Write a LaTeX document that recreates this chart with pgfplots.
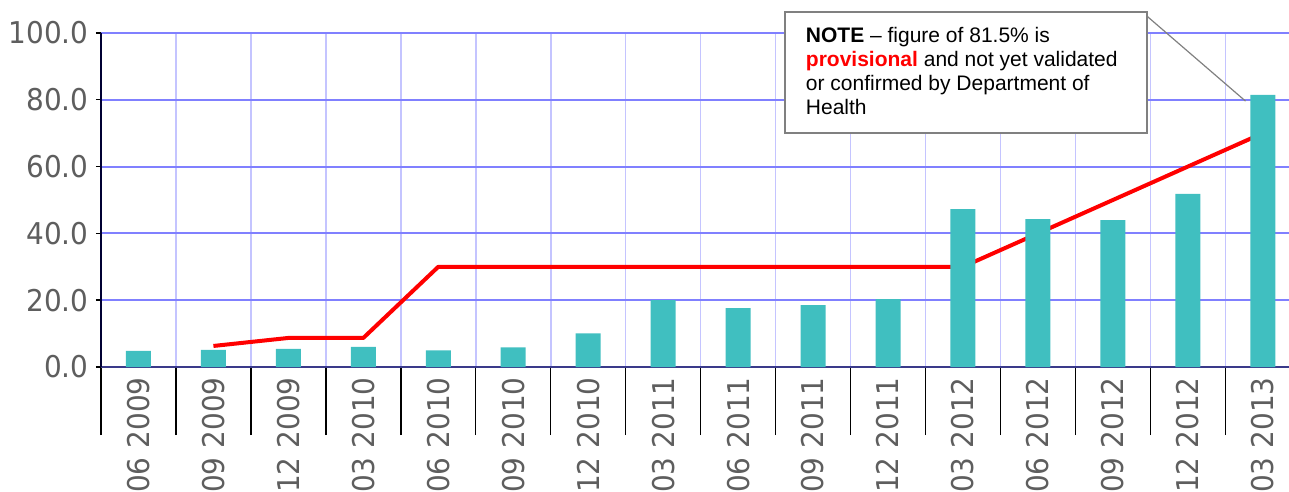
\documentclass[border=0pt]{standalone}
\usepackage{pgfplots}
\pgfplotsset{compat=1.18}
\usepackage{fontspec}
\setmainfont{Liberation Sans}
\newfontfamily\tickfont{DejaVu Sans}[FakeStretch=0.93]

% colours
\definecolor{barcol}{HTML}{40BFC0}
\definecolor{labgray}{HTML}{5E5E5E}
\definecolor{hgrid}{HTML}{8080FF}
\definecolor{vgrid}{HTML}{C4C4FF}
\definecolor{xaxcol}{HTML}{3A3A8A}
\definecolor{boxgray}{HTML}{808080}
\definecolor{notered}{HTML}{FF0000}

\begin{document}
\begin{tikzpicture}
\begin{axis}[
    name=ax,
    scale only axis,
    width=594pt, height=167pt,
    xmin=-0.5, xmax=15.35,
    ymin=0, ymax=100,
    clip=false,
    xtick={0,...,15},
    xticklabels={06 2009, 09 2009, 12 2009, 03 2010, 06 2010, 09 2010, 12 2010, 03 2011,
                 06 2011, 09 2011, 12 2011, 03 2012, 06 2012, 09 2012, 12 2012, 03 2013},
    minor xtick={-0.5,0.5,...,14.5},
    ytick={0,20,...,100},
    axis lines*=left,
    x axis line style={xaxcol, line width=1pt, -},
    y axis line style={black!80!blue, line width=1pt, -},
    tick align=outside,
    xtick pos=bottom, ytick pos=left,
    major tick length=2.5pt,
    minor tick length=34pt,
    every major x tick/.append style={draw=none},
    every minor x tick/.append style={black, line width=0.7pt},
    every major y tick/.append style={black, line width=0.7pt},
    ymajorgrids, xminorgrids,
    major y grid style={hgrid, line width=1pt},
    minor x grid style={vgrid, line width=0.8pt},
    xticklabel style={font=\tickfont\fontsize{15}{18}\selectfont, text=labgray,
                      yshift=-2.5pt, rotate=90, anchor=east, inner sep=0pt},
    yticklabel style={font=\tickfont\fontsize{15}{18}\selectfont, text=labgray,
                      anchor=east, inner sep=0pt, xshift=-3.5pt,
                      /pgf/number format/fixed, /pgf/number format/fixed zerofill,
                      /pgf/number format/precision=1,
                      /pgf/number format/assume math mode=true},
]

% target line (drawn under the bars)
\addplot[notered, line width=2pt, sharp plot, mark=none, line join=round] coordinates {
    (1,6.3) (2,8.7) (3,8.7) (4,30) (5,30) (6,30) (7,30) (8,30) (9,30) (10,30) (11,30)
    (12,40) (13,50) (14,60) (15,70)
};

% quarterly values
\addplot[ybar, bar width=12.5pt, fill=barcol, draw=none] coordinates {
    (0,4.8) (1,5.1) (2,5.4) (3,6.0) (4,5.0) (5,5.9) (6,10.1) (7,20.0)
    (8,17.6) (9,18.5) (10,20.3) (11,47.3) (12,44.3) (13,44.0) (14,51.8) (15,81.5)
};

% callout
\draw[boxgray, line width=0.6pt] (axis cs:13.39,106.3) -- (axis cs:14.77,79.6);
\draw[boxgray, line width=1pt, fill=white] (axis cs:8.62,106.3) rectangle (axis cs:13.46,70.06);
\node[anchor=north west, inner sep=0pt, align=left, font=\fontsize{10.5}{12}\selectfont]
    at (axis cs:8.90,101.8)
    {\textbf{NOTE} \textendash{} figure of 81.5\% is\\
     \textcolor{notered}{\textbf{provisional}} and not yet validated\\
     or confirmed by Department of\\
     Health};
\end{axis}
\pgfresetboundingbox
\path[use as bounding box] ([shift={(-50.5pt,-62.5pt)}]ax.south west)
    rectangle ([shift={(0pt,16.5pt)}]ax.north east);
\end{tikzpicture}
\end{document}
